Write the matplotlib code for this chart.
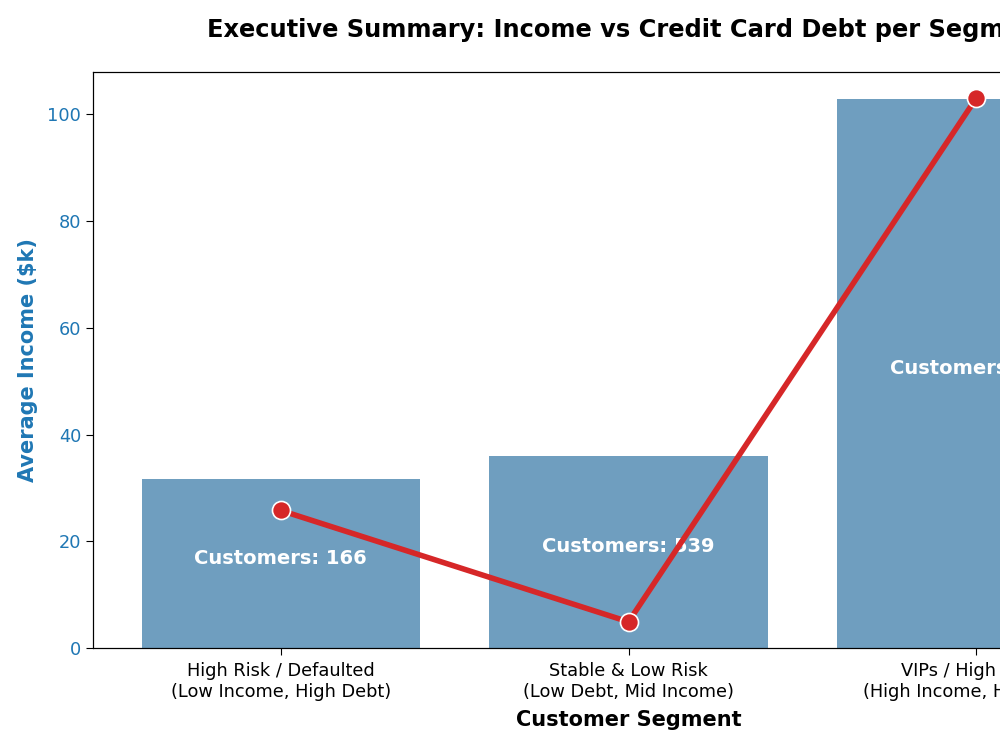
import numpy as np
from matplotlib import pyplot as plt

segments = ['High Risk / Defaulted\n(Low Income, High Debt)',
            'Stable & Low Risk\n(Low Debt, Mid Income)',
            'VIPs / High Value\n(High Income, High Debt)']
avg_income = [31.6, 36.0, 102.8]
avg_card_debt = [1.65, 0.88, 4.50]
counts = [166, 539, 145]

fig = plt.figure(figsize=(10, 7.5), dpi=100)
ax = fig.add_axes([0.093, 0.136, 1.071, 0.768])
x = np.arange(len(segments))

ax.bar(x, avg_income, width=0.8, color='#6f9ebf')
ax.set_ylabel('Average Income ($k)', color='tab:blue', fontsize=15,
              fontweight='bold', labelpad=7)
ax.tick_params(axis='y', labelcolor='tab:blue', labelsize=12.8, length=5)
ax.tick_params(axis='x', pad=5, length=5)
ax.set_xticks(x)
ax.set_xticklabels(segments, fontsize=12.8)
ax.set_xlabel('Customer Segment', fontsize=15, fontweight='bold', labelpad=6.5)

for xi, h, n in zip(x, avg_income, counts):
    ax.text(xi, h / 2, f'Customers: {n}', ha='center',
            color='white', fontsize=14, fontweight='bold')

ax2 = ax.twinx()
ax2.plot(x, avg_card_debt, color='tab:red', linewidth=4, marker='o',
         markersize=13, markeredgecolor='white', markeredgewidth=1.2)
ax2.set_ylabel('Average Credit Card Debt ($k)', color='tab:red', fontsize=15, fontweight='bold')
ax2.tick_params(axis='y', labelcolor='tab:red', labelsize=12.8)

ax.set_title('Executive Summary: Income vs Credit Card Debt per Segment',
             fontsize=17.4, fontweight='bold', pad=25)

fig.savefig('out.png', dpi=100)
